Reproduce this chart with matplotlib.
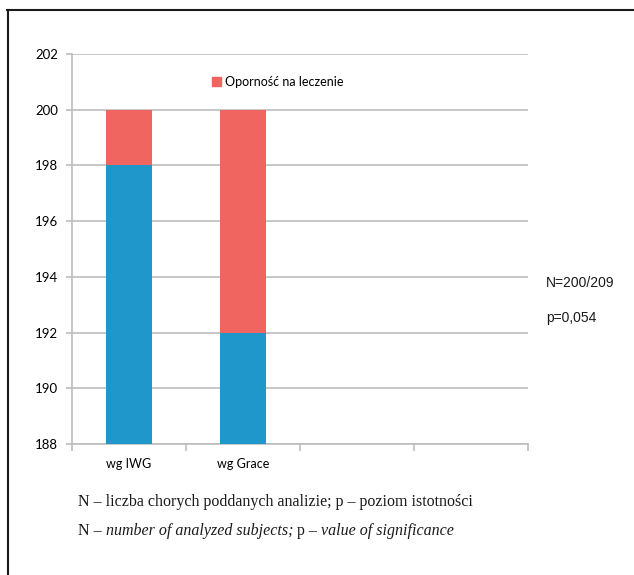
import matplotlib.pyplot as plt
from matplotlib.lines import Line2D
from matplotlib.patches import Patch

# data
categories = ["wg IWG", "wg Grace", "", ""]
odpowiedz = [198, 192]          # blue part of each bar
opornosc = [2, 8]               # stacked on top, "Oporność na leczenie"
y_ticks = [188, 190, 192, 194, 196, 198, 200, 202]

blue = "#1F97CB"
red = "#F0655F"
grid = "#BDBDBD"
ink = "#1A1A1A"

fig = plt.figure(figsize=(6.34, 5.75), dpi=100)
ax = fig.add_axes([72 / 634, 131 / 575, 456 / 634, 390 / 575])

x = list(range(len(odpowiedz)))
ax.bar(x, odpowiedz, width=0.4, color=blue, zorder=3)
ax.bar(x, opornosc, bottom=odpowiedz, width=0.4, color=red, zorder=3)

ax.set_xlim(-0.5, len(categories) - 0.5)
ax.set_ylim(y_ticks[0], y_ticks[-1])
ax.set_yticks(y_ticks)
ax.yaxis.grid(True, color=grid, linewidth=1.2, zorder=0)

ax.set_xticks(range(len(categories)))
ax.set_xticklabels(categories, family="Lato", fontsize=9)
ax.set_xticks([i - 0.5 for i in range(len(categories) + 1)], minor=True)
ax.tick_params(axis="x", which="major", length=0, pad=10)
ax.tick_params(axis="x", which="minor", length=5, width=1.2, color=grid, direction="out")
ax.tick_params(axis="y", length=4, width=1.2, color=grid, pad=6, labelsize=9.5)
for lab in ax.get_yticklabels():
    lab.set_family("Lato")

for side in ("top", "right"):
    ax.spines[side].set_visible(False)
for side in ("left", "bottom"):
    ax.spines[side].set_color(grid)
    ax.spines[side].set_linewidth(1.2)

ax.legend(handles=[Patch(color=red, label="Oporność na leczenie")],
          loc="center left", bbox_to_anchor=(0.295, 0.928), frameon=False,
          handlelength=0.75, handleheight=0.75, handletextpad=0.3,
          borderaxespad=0, prop={"family": "Lato", "size": 9})

# side notes
fig.text(546 / 634, 1 - 283 / 575, "N=200/209", family="Liberation Sans",
         fontsize=10, va="center", color=ink)
fig.text(546 / 634, 1 - 318 / 575, "p=0,054", family="Liberation Sans",
         fontsize=10, va="center", color=ink)

# footnotes under the chart
serif = dict(family="Liberation Serif", fontsize=11.5, color=ink)
fig.text(78 / 634, 1 - 506 / 575,
         "N – liczba chorych poddanych analizie; p – poziom istotności",
         va="baseline", **serif)

# second line mixes upright and italic, so chain the pieces one after another
pieces = [("N –", "normal"), (" number of analyzed subjects;", "italic"),
          (" p –", "normal"), (" value of significance", "italic")]
prev = fig.text(78 / 634, 1 - 535 / 575, pieces[0][0], va="baseline", **serif)
for txt, style in pieces[1:]:
    prev = fig.add_artist(plt.Annotation(txt, xy=(1, 0), xycoords=prev,
                                         va="bottom", ha="left",
                                         fontstyle=style, **serif))

# frame lines on top and left
fig.add_artist(Line2D([7 / 634, 1], [1 - 10 / 575, 1 - 10 / 575],
                      color=ink, linewidth=1.5))
fig.add_artist(Line2D([8 / 634, 8 / 634], [0, 1 - 10 / 575],
                      color=ink, linewidth=1.5))

fig.savefig("out.png", dpi=100)
